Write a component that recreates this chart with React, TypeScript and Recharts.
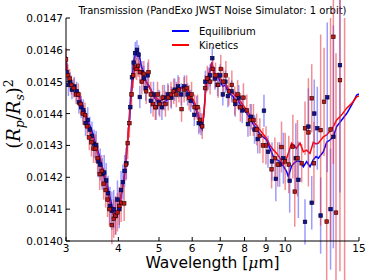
import { ComposedChart, Line, Scatter, ErrorBar, XAxis, YAxis } from "recharts";

const FONT = "'DejaVu Sans', sans-serif";
const UNIT = 1e-4; // all (Rp/Rs)^2 values below are in units of 1e-4

// model spectra, shared wavelength grid (micron)
const modelWave = [
  3.0, 3.02, 3.05, 3.08, 3.12, 3.16, 3.2, 3.24, 3.28, 3.32,
  3.36, 3.4, 3.44, 3.48, 3.52, 3.56, 3.6, 3.64, 3.68, 3.72,
  3.76, 3.8, 3.84, 3.88, 3.92, 3.96, 4.0, 4.04, 4.08, 4.12,
  4.16, 4.2, 4.24, 4.28, 4.32, 4.36, 4.4, 4.44, 4.48, 4.52,
  4.56, 4.6, 4.66, 4.72, 4.8, 4.88, 4.96, 5.04, 5.12, 5.2,
  5.3, 5.4, 5.5, 5.6, 5.7, 5.8, 5.9, 6.0, 6.1, 6.2,
  6.28, 6.34, 6.4, 6.46, 6.52, 6.6, 6.68, 6.76, 6.84, 6.92,
  7.0, 7.1, 7.2, 7.3, 7.4, 7.5, 7.6, 7.7, 7.8, 7.9,
  8.0, 8.2, 8.4, 8.71, 9.03, 9.2, 9.37, 9.55, 9.72, 9.9,
  10.08, 10.17, 10.36, 10.5, 10.64, 10.85, 11.05, 11.25, 11.46, 11.67,
  11.85, 12.0, 12.33, 12.56, 12.79, 13.03, 13.27, 13.64, 14.02, 14.41,
  14.81, 15.0,
];
const eqModel = [
  145.8, 145.3, 145.1, 145.0, 144.9, 144.8, 144.7, 144.5, 144.3, 144.1,
  143.9, 143.7, 143.55, 143.35, 143.1, 142.9, 142.7, 142.45, 142.2, 142.0,
  141.8, 141.5, 141.25, 141.0, 140.9, 140.85, 141.0, 141.3, 141.6, 141.9,
  142.4, 143.0, 143.7, 144.5, 145.2, 145.7, 145.9, 146.0, 145.9, 145.6,
  145.4, 145.2, 145.0, 144.9, 144.7, 144.5, 144.35, 144.3, 144.35, 144.4,
  144.5, 144.65, 144.7, 144.8, 144.85, 144.75, 144.6, 144.4, 144.2, 143.9,
  143.6, 143.5, 144.0, 144.8, 145.1, 145.3, 145.6, 145.3, 145.1, 145.15,
  145.0, 144.85, 144.9, 144.7, 144.6, 144.55, 144.4, 144.45, 144.3, 144.2,
  144.1, 143.9, 143.65, 143.35, 143.17, 142.9, 142.65, 142.55, 142.49, 142.35,
  142.18, 142.02, 142.35, 142.45, 142.5, 142.5, 142.33, 142.49, 142.33, 142.55,
  142.65, 142.6, 142.8, 143.1, 143.17, 143.27, 143.59, 143.8, 144.0, 144.27,
  144.58, 144.62,
];
const kinModel = [
  145.7, 145.4, 145.1, 144.95, 144.85, 144.75, 144.6, 144.45, 144.25, 144.0,
  143.85, 143.6, 143.4, 143.2, 143.0, 142.8, 142.6, 142.35, 142.1, 141.85,
  141.6, 141.35, 141.1, 140.85, 140.7, 140.75, 140.9, 141.2, 141.55, 141.9,
  142.4, 143.0, 143.6, 144.3, 144.9, 145.3, 145.45, 145.45, 145.4, 145.3,
  145.2, 145.1, 145.0, 144.85, 144.7, 144.55, 144.45, 144.4, 144.45, 144.5,
  144.55, 144.65, 144.75, 144.8, 144.8, 144.8, 144.7, 144.5, 144.3, 144.0,
  143.75, 143.6, 144.0, 144.7, 145.1, 145.3, 145.6, 145.3, 145.2, 145.25,
  145.1, 145.0, 144.95, 144.8, 144.7, 144.65, 144.55, 144.5, 144.4, 144.3,
  144.2, 144.0, 143.75, 143.48, 143.22, 143.0, 142.86, 142.75, 142.6, 142.39,
  142.6, 142.75, 143.07, 143.0, 142.91, 143.07, 142.8, 142.85, 142.75, 143.1,
  143.05, 143.07, 143.27, 143.33, 143.45, 143.6, 143.8, 143.96, 144.17, 144.32,
  144.53, 144.55,
];

// simulated observations, equilibrium
const eqWave = [
  3.01, 3.04, 3.07, 3.1, 3.14, 3.18, 3.22, 3.26, 3.3, 3.34,
  3.38, 3.42, 3.46, 3.5, 3.54, 3.58, 3.62, 3.66, 3.7, 3.74,
  3.78, 3.82, 3.86, 3.9, 3.94, 3.98, 4.02, 4.06, 4.1, 4.14,
  4.18, 4.27, 4.31, 4.35, 4.39, 4.43, 4.47, 4.5, 4.55, 4.6,
  4.65, 4.7, 4.78, 4.85, 4.92, 5.0, 5.08, 5.15, 5.25, 5.35,
  5.45, 5.55, 5.65, 5.75, 5.85, 5.95, 6.07, 6.15, 6.22, 6.3,
  6.45, 6.55, 6.62, 6.7, 6.8, 6.9, 7.0, 7.1, 7.2, 7.3,
  7.45, 7.6, 7.75, 7.9, 8.15, 8.3, 8.45, 8.6, 8.9, 9.1,
  9.3, 9.5, 9.7, 9.9, 10.25, 10.6, 10.75, 11.15, 11.36, 11.57,
  11.73, 11.93, 12.15, 12.6, 12.83, 13.03, 13.51,
];
const eqObs = [
  145.3, 144.9, 145.0, 144.75, 144.85, 144.7, 144.35, 144.2, 144.1, 143.7,
  143.8, 143.5, 143.3, 143.05, 143.0, 142.5, 142.4, 142.1, 142.15, 141.9,
  141.5, 141.1, 140.95, 141.0, 140.8, 141.3, 141.0, 141.6, 141.85, 142.2,
  142.44, 144.2, 145.14, 145.6, 145.9, 146.0, 145.85, 144.52, 145.3, 145.1,
  144.8, 145.2, 144.4, 144.6, 144.2, 144.35, 144.2, 144.5, 144.6, 144.5,
  144.75, 144.85, 144.6, 144.85, 144.6, 144.4, 143.96, 144.2, 143.7, 143.67,
  145.0, 145.1, 145.2, 145.74, 145.1, 144.9, 145.2, 144.6, 145.0, 144.55,
  144.7, 144.3, 144.5, 144.1, 143.67, 143.9, 143.5, 143.2, 144.09, 142.8,
  142.5, 141.95, 142.4, 142.6, 141.89, 142.6, 141.92, 140.6, 143.59, 141.2,
  144.0, 143.54, 140.8, 144.51, 141.0, 143.27, 145.52,
];
const eqErr = [
  0.3, 0.35, 0.3, 0.3, 0.3, 0.3, 0.35, 0.35, 0.35, 0.4,
  0.4, 0.4, 0.45, 0.45, 0.45, 0.5, 0.5, 0.5, 0.55, 0.55,
  0.55, 0.6, 0.6, 0.6, 0.6, 0.6, 0.6, 0.6, 0.55, 0.5,
  0.5, 0.4, 0.4, 0.35, 0.35, 0.3, 0.3, 0.35, 0.35, 0.4,
  0.4, 0.4, 0.4, 0.4, 0.4, 0.4, 0.4, 0.4, 0.35, 0.35,
  0.35, 0.35, 0.35, 0.35, 0.35, 0.35, 0.35, 0.35, 0.35, 0.35,
  0.35, 0.35, 0.35, 0.35, 0.35, 0.35, 0.35, 0.35, 0.35, 0.35,
  0.35, 0.4, 0.4, 0.4, 0.4, 0.4, 0.45, 0.45, 0.5, 0.5,
  0.6, 0.7, 0.7, 0.8, 1.0, 1.1, 1.2, 0.71, 1.2, 0.84,
  1.07, 1.3, 1.2, 2.35, 1.9, 3.5, 4.0,
];

// simulated observations, kinetics
const kinWave = [
  3.0, 3.03, 3.06, 3.09, 3.13, 3.17, 3.21, 3.25, 3.29, 3.33,
  3.37, 3.41, 3.45, 3.49, 3.53, 3.57, 3.61, 3.65, 3.69, 3.73,
  3.77, 3.81, 3.86, 3.9, 3.94, 3.98, 4.02, 4.06, 4.13, 4.17,
  4.21, 4.25, 4.3, 4.34, 4.38, 4.42, 4.46, 4.5, 4.55, 4.6,
  4.66, 4.72, 4.78, 4.84, 4.9, 4.96, 5.02, 5.1, 5.18, 5.26,
  5.34, 5.42, 5.5, 5.58, 5.66, 5.74, 5.82, 5.9, 5.98, 6.08,
  6.18, 6.26, 6.34, 6.44, 6.52, 6.62, 6.72, 6.82, 6.92, 7.02,
  7.12, 7.22, 7.34, 7.46, 7.58, 7.7, 7.82, 7.95, 8.1, 8.25,
  8.4, 8.55, 8.7, 8.85, 9.0, 9.28, 9.45, 9.6, 9.8, 10.0,
  10.2, 10.43, 10.54, 10.7, 10.95, 11.15, 11.36, 11.57, 11.71, 12.15,
  12.38, 12.56, 12.83, 13.03, 13.22, 13.51, 13.86,
];
const kinObs = [
  145.7, 145.2, 145.1, 144.9, 144.8, 144.6, 144.6, 144.3, 144.0, 143.95,
  143.6, 143.25, 143.1, 142.9, 142.9, 142.6, 142.1, 142.2, 141.8, 141.6,
  141.3, 141.0, 140.5, 140.7, 140.8, 140.9, 141.1, 141.2, 141.18, 142.4,
  143.07, 143.7, 144.6, 145.2, 145.45, 145.4, 145.5, 145.3, 145.0, 145.25,
  144.7, 145.3, 144.6, 144.3, 144.2, 144.6, 144.3, 144.5, 144.3, 144.5,
  144.6, 144.7, 144.6, 144.75, 144.14, 144.75, 144.8, 144.5, 144.6, 144.2,
  144.2, 143.8, 143.6, 144.8, 145.1, 145.0, 145.4, 145.2, 144.9, 145.4,
  145.0, 145.2, 144.7, 144.9, 144.4, 144.6, 144.2, 144.5, 144.1, 143.8,
  143.8, 143.5, 143.3, 143.0, 143.0, 142.25, 142.6, 142.4, 142.95, 142.5,
  142.4, 142.96, 141.55, 142.6, 142.44, 143.54, 143.41, 144.48, 142.44, 143.48,
  144.37, 140.61, 143.5, 146.41, 140.89, 145.05, 139.0,
];
const kinErr = [
  0.35, 0.35, 0.3, 0.3, 0.3, 0.3, 0.35, 0.35, 0.35, 0.4,
  0.4, 0.4, 0.45, 0.45, 0.45, 0.5, 0.5, 0.5, 0.5, 0.55,
  0.55, 0.55, 0.6, 0.6, 0.6, 0.6, 0.6, 0.6, 0.55, 0.5,
  0.5, 0.45, 0.4, 0.4, 0.35, 0.35, 0.35, 0.35, 0.4, 0.4,
  0.4, 0.4, 0.4, 0.4, 0.4, 0.4, 0.4, 0.4, 0.4, 0.4,
  0.4, 0.4, 0.4, 0.4, 0.4, 0.4, 0.4, 0.4, 0.4, 0.4,
  0.4, 0.4, 0.4, 0.4, 0.4, 0.4, 0.4, 0.4, 0.4, 0.45,
  0.45, 0.45, 0.45, 0.45, 0.45, 0.45, 0.45, 0.45, 0.5, 0.5,
  0.5, 0.5, 0.55, 0.55, 0.6, 0.6, 0.65, 0.7, 0.8, 0.9,
  0.9, 1.0, 1.1, 1.2, 0.6, 0.84, 1.7, 1.07, 1.3, 3.0,
  1.7, 2.5, 3.5, 4.0, 5.0, 6.0, 8.0,
];

const xTicks = [3, 4, 5, 6, 7, 8, 9, 10, 15];
const yTicks = [0.014, 0.0141, 0.0142, 0.0143, 0.0144, 0.0145, 0.0146, 0.0147];

const series = [
  { name: "Equilibrium", color: "#0000ff" },
  { name: "Kinetics", color: "#ff0000" },
];

const eqLine = modelWave.map((x, i) => ({ x, y: eqModel[i] * UNIT }));
const kinLine = modelWave.map((x, i) => ({ x, y: kinModel[i] * UNIT }));
const eqPts = eqWave.map((x, i) => ({ x, y: eqObs[i] * UNIT, err: eqErr[i] * UNIT }));
const kinPts = kinWave.map((x, i) => ({ x, y: kinObs[i] * UNIT, err: kinErr[i] * UNIT }));

const BottomTick = ({ x, y, payload }: any) => (
  <g>
    <line x1={x} x2={x} y1={y} y2={y - 4} stroke="#000" />
    <text x={x} y={y + 11} textAnchor="middle" fontSize={10.5} fontFamily={FONT} fill="#000">
      {payload.value}
    </text>
  </g>
);
const TopTick = ({ x, y }: any) => <line x1={x} x2={x} y1={y} y2={y + 4} stroke="#000" />;
const LeftTick = ({ x, y, payload }: any) => (
  <g>
    <line x1={x} x2={x + 4} y1={y} y2={y} stroke="#000" />
    <text x={x - 3} y={y + 4} textAnchor="end" fontSize={10.5} fontFamily={FONT} fill="#000">
      {payload.value.toFixed(4)}
    </text>
  </g>
);
const RightTick = ({ x, y }: any) => <line x1={x} x2={x - 4} y1={y} y2={y} stroke="#000" />;

const square = (fill: string, edge: string) => (p: any) => (
  <rect x={p.cx - 1.8} y={p.cy - 1.8} width={3.6} height={3.6} fill={fill} stroke={edge} strokeWidth={0.6} />
);

export default function App() {
  return (
    <div style={{ position: "absolute", left: 0, top: 0, width: 374, height: 280, background: "#fff" }}>
      <ComposedChart width={374} height={280} margin={{ top: 18, right: 15, bottom: 0, left: 0 }}>
        <XAxis
          dataKey="x"
          type="number"
          scale="log"
          domain={[3, 15]}
          ticks={xTicks}
          allowDataOverflow
          height={39}
          tickSize={0}
          tickMargin={0}
          tick={<BottomTick />}
          axisLine={{ stroke: "#000" }}
        />
        <XAxis
          xAxisId="top"
          orientation="top"
          dataKey="x"
          type="number"
          scale="log"
          domain={[3, 15]}
          ticks={xTicks}
          allowDataOverflow
          height={0}
          tickSize={0}
          tickMargin={0}
          tick={<TopTick />}
          axisLine={{ stroke: "#000" }}
        />
        <YAxis
          type="number"
          domain={[0.014, 0.0147]}
          ticks={yTicks}
          allowDataOverflow
          width={66}
          tickSize={0}
          tickMargin={0}
          tick={<LeftTick />}
          axisLine={{ stroke: "#000" }}
        />
        <YAxis
          yAxisId="right"
          orientation="right"
          type="number"
          domain={[0.014, 0.0147]}
          ticks={yTicks}
          allowDataOverflow
          width={0}
          tickSize={0}
          tickMargin={0}
          tick={<RightTick />}
          axisLine={{ stroke: "#000" }}
        />
        <Line data={eqLine} dataKey="y" name={series[0].name} stroke={series[0].color} strokeWidth={1.5} dot={false} isAnimationActive={false} />
        <Line data={kinLine} dataKey="y" name={series[1].name} stroke={series[1].color} strokeWidth={1.5} dot={false} isAnimationActive={false} />
        <Scatter data={eqPts} dataKey="y" shape={square("#12128c", "#000033")} isAnimationActive={false}>
          <ErrorBar dataKey="err" direction="y" width={0} stroke="#3a3aff" strokeOpacity={0.5} strokeWidth={1.5} />
        </Scatter>
        <Scatter data={kinPts} dataKey="y" shape={square("#c01818", "#220000")} isAnimationActive={false}>
          <ErrorBar dataKey="err" direction="y" width={0} stroke="#e8303c" strokeOpacity={0.55} strokeWidth={1.5} />
        </Scatter>
        <text x={212.5} y={14} textAnchor="middle" fontSize={10} fontFamily={FONT} fill="#000">
          Transmission (PandExo JWST Noise Simulator: 1 orbit)
        </text>
        <text x={212.5} y={268} textAnchor="middle" fontSize={15.5} fontFamily={FONT} fill="#000">
          Wavelength [<tspan fontFamily="'DejaVu Serif', serif" fontStyle="italic">μ</tspan>m]
        </text>
        <text transform="translate(20,114) rotate(-90)" textAnchor="middle" fontSize={18} fontFamily="'DejaVu Serif', serif" fill="#000">
          (<tspan fontStyle="italic">R</tspan>
          <tspan fontStyle="italic" fontSize={12.5} dy={4}>p</tspan>
          <tspan dy={-4}>/</tspan>
          <tspan fontStyle="italic">R</tspan>
          <tspan fontStyle="italic" fontSize={12.5} dy={4}>s</tspan>
          <tspan dy={-4}>)</tspan>
          <tspan fontSize={12.5} dy={-7}>2</tspan>
        </text>
      </ComposedChart>
      <div style={{ position: "absolute", left: 172, top: 24, fontFamily: FONT, fontSize: 10 }}>
        {series.map((s) => (
          <div key={s.name} style={{ display: "flex", alignItems: "center", height: 14 }}>
            <span style={{ width: 17, height: 2, background: s.color, marginRight: 10 }} />
            <span>{s.name}</span>
          </div>
        ))}
      </div>
    </div>
  );
}
